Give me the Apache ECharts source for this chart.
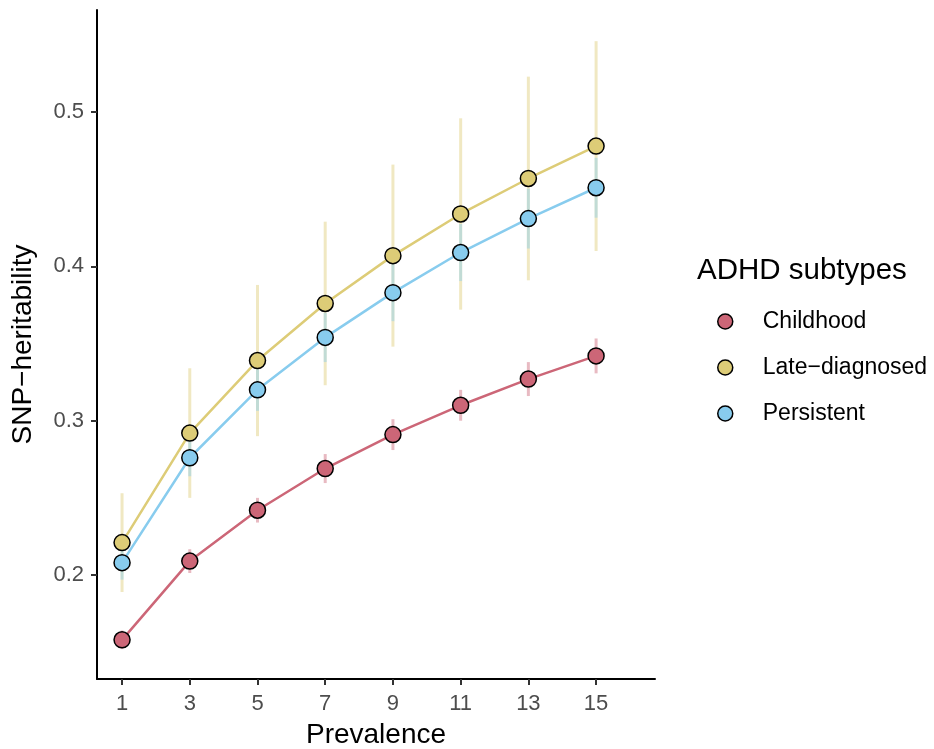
<!DOCTYPE html>
<html lang="en">
<head>
<meta charset="UTF-8">
<title>SNP-heritability by prevalence</title>
<script src="https://cdn.jsdelivr.net/npm/echarts/dist/echarts.min.js"></script>
<style>body{margin:0;background:#fff} #chart{width:934px;height:749px}</style>
</head>
<body>
<div id="chart"></div>
<script>
// prevalence (%) on the x axis
const prevalence = [1, 3, 5, 7, 9, 11, 13, 15];
const xTicks = [1, 3, 5, 7, 9, 11, 13, 15];
const yTicks = [0.2, 0.3, 0.4, 0.5];

// SNP-heritability estimates and half-width of the error bars
const childhood = [0.158, 0.209, 0.242, 0.269, 0.291, 0.310, 0.327, 0.342];
const childhoodErr = [0.006, 0.0077, 0.008, 0.0094, 0.010, 0.010, 0.011, 0.0113];
const lateDiagnosed = [0.221, 0.292, 0.339, 0.376, 0.407, 0.434, 0.457, 0.478];
const lateDiagnosedErr = [0.032, 0.042, 0.049, 0.053, 0.059, 0.062, 0.066, 0.068];
const persistent = [0.208, 0.276, 0.320, 0.354, 0.383, 0.409, 0.431, 0.451];
const persistentErr = [0.011, 0.012, 0.0136, 0.016, 0.0185, 0.0185, 0.0194, 0.0194];

const groups = ['Childhood', 'Late\u2212diagnosed', 'Persistent'];
const colors = ['#CC6677', '#DDCC77', '#88CCEE'];

const font = 'Liberation Sans, Arial, Helvetica, sans-serif';

function errorSeries(name, mean, err, color) {
    return {
        type: 'custom',
        name: name + ' err',
        silent: true,
        z: 1,
        data: prevalence.map((x, i) => [x, mean[i] - err[i], mean[i] + err[i]]),
        encode: { x: 0, y: [1, 2] },
        renderItem: function (params, api) {
            let lo = api.coord([api.value(0), api.value(1)]);
            let hi = api.coord([api.value(0), api.value(2)]);
            return {
                type: 'line',
                shape: { x1: lo[0], y1: lo[1], x2: hi[0], y2: hi[1] },
                style: { stroke: color, lineWidth: 3, opacity: 0.45 }
            };
        }
    };
}

function lineSeries(name, mean, color) {
    return {
        type: 'line',
        name: name,
        z: 3,
        data: prevalence.map((x, i) => [x, mean[i]]),
        symbol: 'circle',
        symbolSize: 16,
        lineStyle: { color: color, width: 2.5 },
        itemStyle: { color: color, borderColor: '#000', borderWidth: 1.5 },
        emphasis: { disabled: true }
    };
}

let chart = echarts.init(document.getElementById('chart'));

let option = {
    animation: false,
    grid: { left: 97, top: 10, right: 279, bottom: 70, outerBoundsMode: 'none' },
    xAxis: {
        type: 'value',
        min: 0.26,
        max: 16.74,
        name: 'Prevalence',
        nameLocation: 'middle',
        nameGap: 42,
        nameTextStyle: { fontFamily: font, fontSize: 28, color: '#000' },
        axisLine: { onZero: false, lineStyle: { color: '#000', width: 2 } },
        axisTick: { show: true, length: 6, customValues: xTicks, lineStyle: { color: '#333', width: 2 } },
        axisLabel: { customValues: xTicks, fontFamily: font, fontSize: 22, color: '#4d4d4d', margin: 14 },
        splitLine: { show: false }
    },
    yAxis: {
        type: 'value',
        min: 0.1326,
        max: 0.5662,
        name: 'SNP\u2212heritability',
        nameLocation: 'middle',
        nameGap: 60,
        nameTextStyle: { fontFamily: font, fontSize: 28, color: '#000' },
        axisLine: { show: true, onZero: false, lineStyle: { color: '#000', width: 2 } },
        axisTick: { show: true, length: 6, customValues: yTicks, lineStyle: { color: '#333', width: 2 } },
        axisLabel: { customValues: yTicks, fontFamily: font, fontSize: 22, color: '#4d4d4d', margin: 13,
            formatter: v => v.toFixed(1) },
        splitLine: { show: false }
    },
    legend: {
        orient: 'vertical',
        left: 712,
        top: 305,
        itemWidth: 15,
        itemHeight: 15,
        itemGap: 23,
        icon: 'circle',
        data: groups,
        textStyle: { fontFamily: font, fontSize: 23, color: '#000', padding: [0, 0, 0, 25] },
        itemStyle: { borderColor: '#000', borderWidth: 1.5 },
        lineStyle: { width: 0 },
        selectedMode: false
    },
    graphic: [{
        type: 'text',
        left: 697,
        top: 256,
        style: { text: 'ADHD subtypes', fontFamily: font, fontSize: 29.5, fill: '#000' }
    }],
    series: [
        errorSeries(groups[0], childhood, childhoodErr, colors[0]),
        errorSeries(groups[1], lateDiagnosed, lateDiagnosedErr, colors[1]),
        errorSeries(groups[2], persistent, persistentErr, colors[2]),
        lineSeries(groups[0], childhood, colors[0]),
        lineSeries(groups[1], lateDiagnosed, colors[1]),
        lineSeries(groups[2], persistent, colors[2])
    ]
};

chart.setOption(option);
</script>
</body>
</html>
